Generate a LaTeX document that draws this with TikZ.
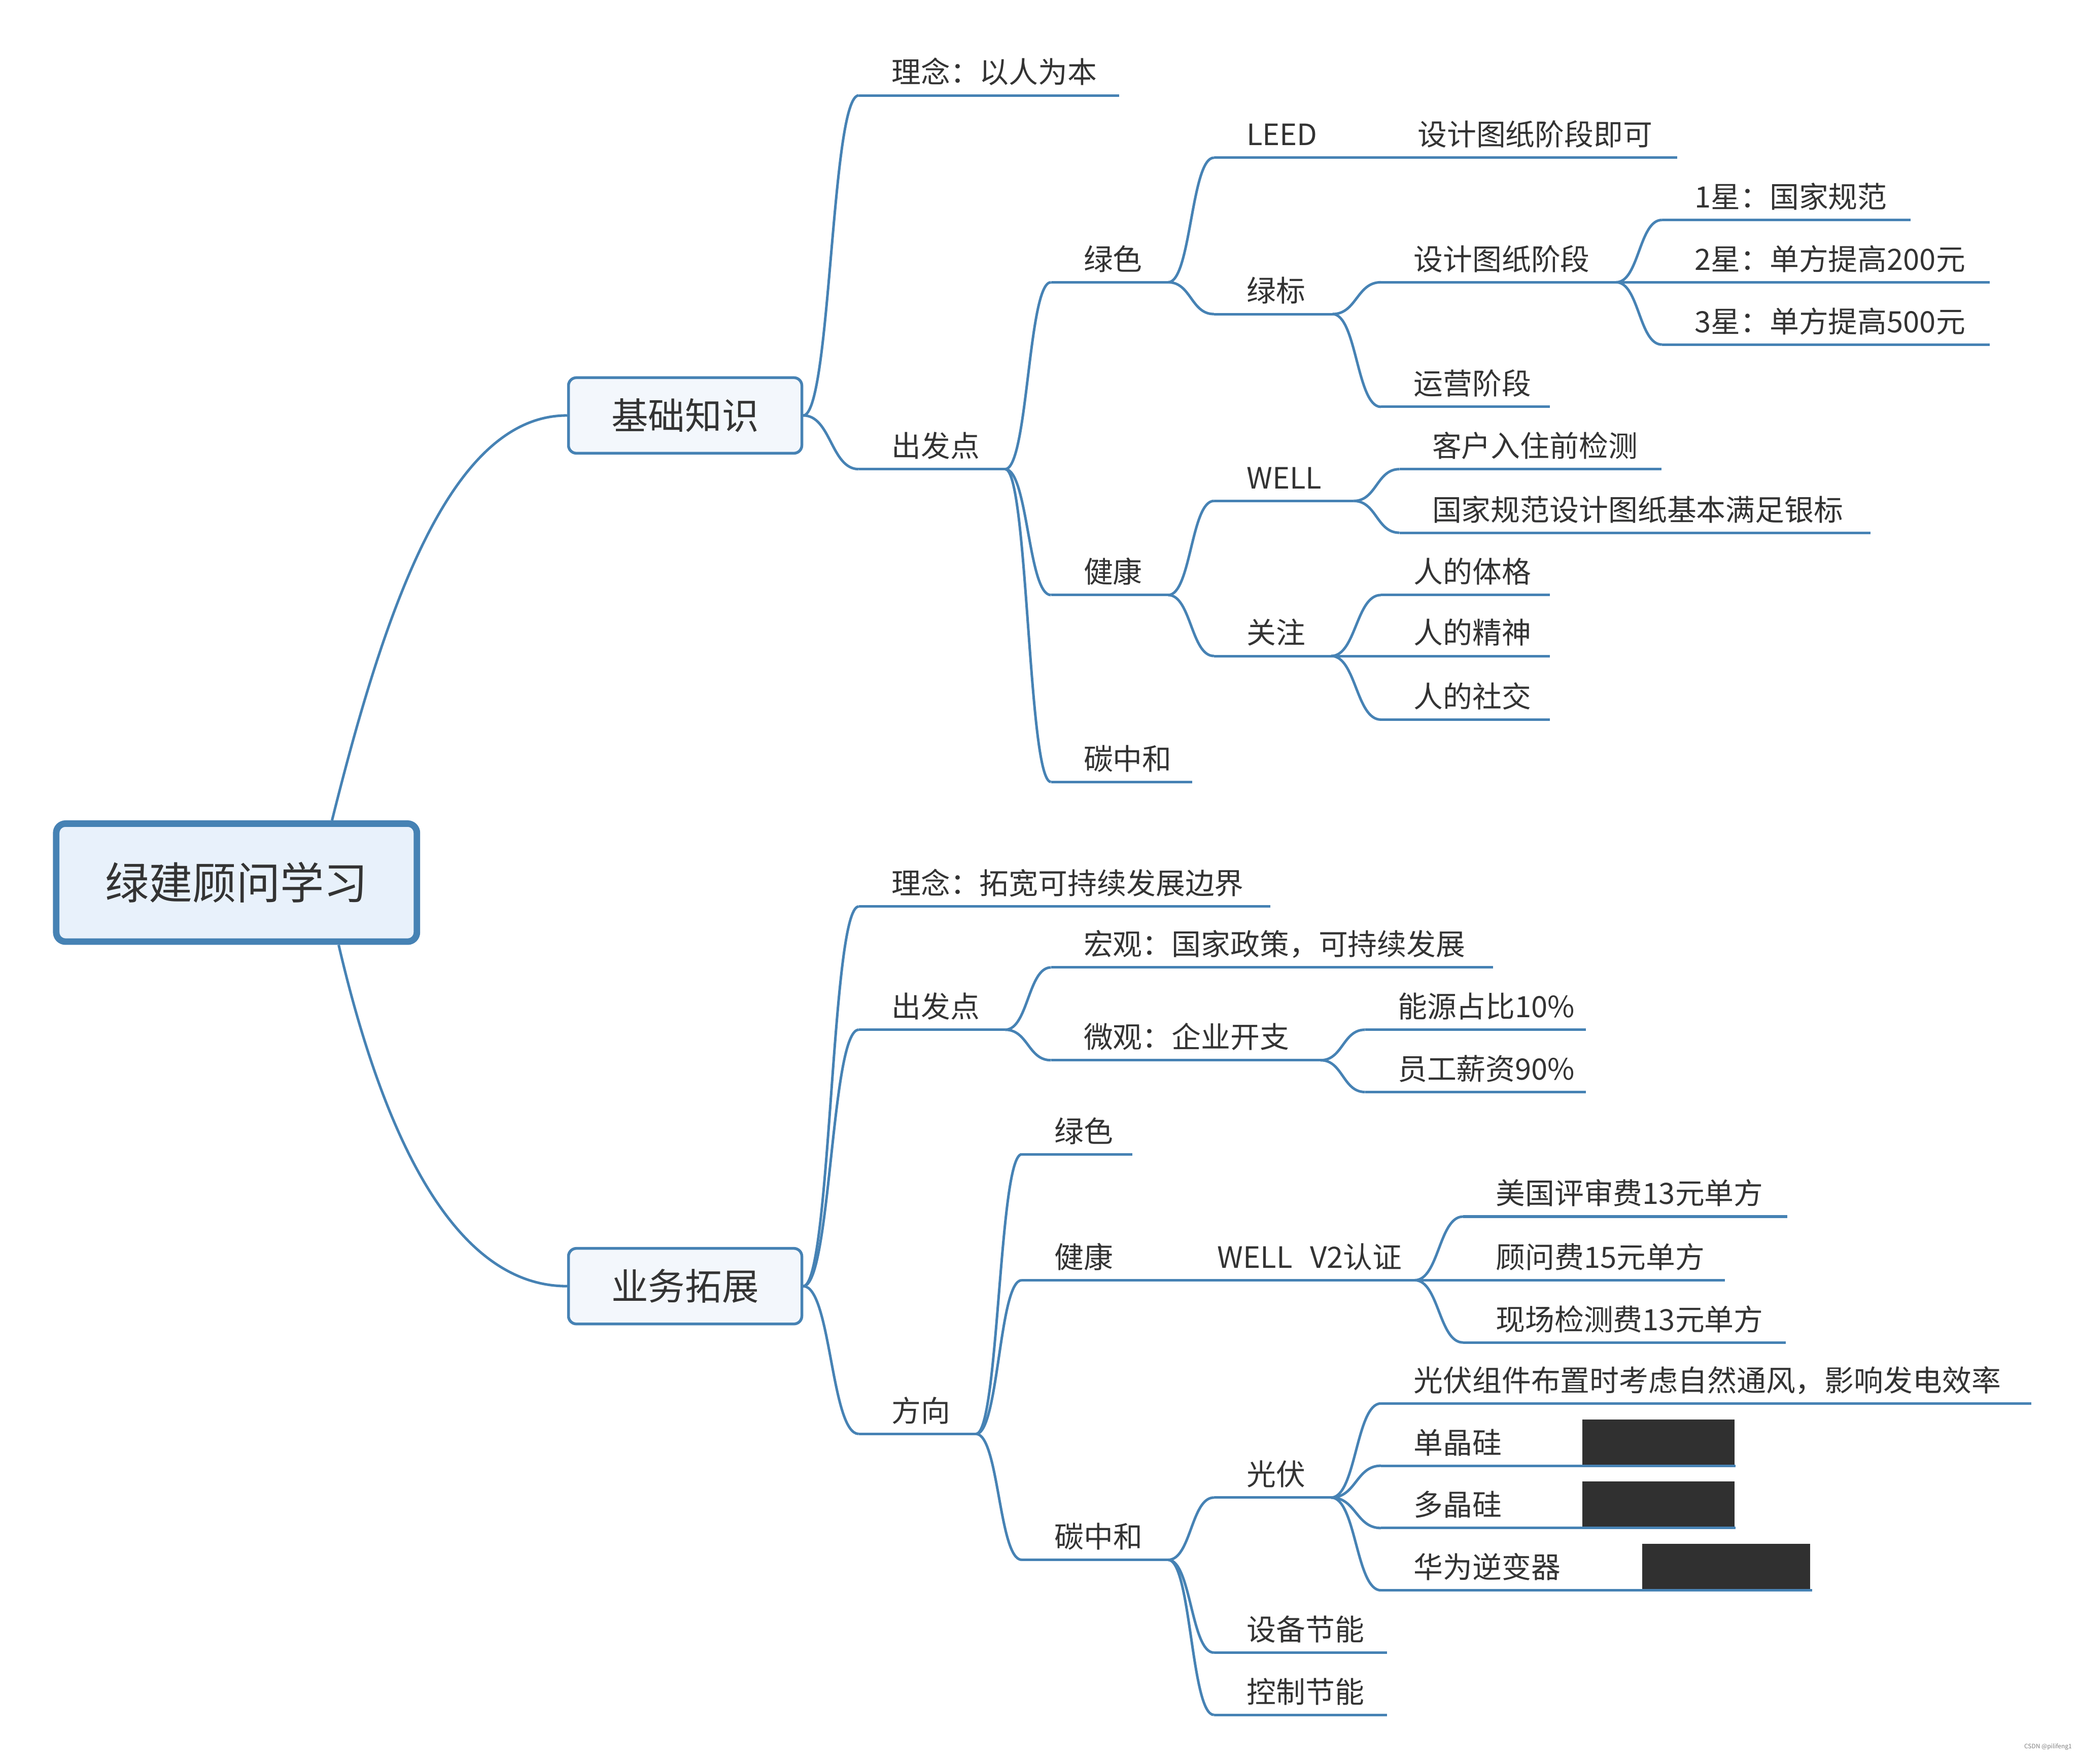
\documentclass[tikz,border=0pt]{standalone}
\usepackage{fontspec}
\setmainfont{Noto Sans CJK SC}
\usetikzlibrary{calc, positioning}
\definecolor{MAPblue}{HTML}{4682B4}
\definecolor{MAPink}{HTML}{333333}
\definecolor{MAProot}{HTML}{E8F1FB}
\definecolor{MAPmain}{HTML}{F3F7FC}
\definecolor{MAPblack}{HTML}{303030}
\newcommand{\tpfont}{\fontsize{6.3}{7.5}\selectfont}

\begin{document}
\begin{tikzpicture}[x=0.01cm, y=-0.01cm,
    branch/.style={MAPblue, line width=0.55pt},
    link/.style={to path={.. controls ($(\tikztostart)!.5!(\tikztostart -| \tikztotarget)$) and ($(\tikztotarget)!.5!(\tikztotarget -| \tikztostart)$) .. (\tikztotarget)}},
    topic/.style={anchor=south west, inner xsep=0pt, inner ysep=1pt, text depth=0.05cm,
        align=left, font=\tpfont, text=MAPink, execute at begin node={\noindent\hspace*{0.24cm}}},
    mainbox/.style={draw=MAPblue, line width=0.6pt, fill=MAPmain, rounded corners=0.06cm,
        minimum width=1.76cm, minimum height=0.57cm, font=\fontsize{7.9}{9}\selectfont, text=MAPink},
    rootbox/.style={draw=MAPblue, line width=1.4pt, fill=MAProot, rounded corners=0.07cm,
        minimum width=2.72cm, minimum height=0.89cm, font=\fontsize{9.4}{11}\selectfont, text=MAPink}]
\useasboundingbox (0,0) rectangle (1568,1331);

\node[rootbox] (root) at (178.5,666) {绿建顾问学习};
\node[mainbox] (kb) at (517,313.5) {基础知识};
\node[mainbox] (bx) at (517,970.5) {业务拓展};

% 基础知识
\node[topic, text width=1.95cm] (idea1) at (648,72) {理念：以人为本};
\node[topic, text width=1.09cm] (start1) at (648,354) {出发点};
\node[topic, text width=0.87cm] (green1) at (793,213) {绿色};
\node[topic, text width=1.04cm] (leed) at (916,119) {LEED};
\node[topic, text width=2.19cm] (leedd) at (1045,119) {设计图纸阶段即可};
\node[topic, text width=0.88cm] (gstd) at (916,237) {绿标};
\node[topic, text width=1.76cm] (stage) at (1042,213) {设计图纸阶段};
\node[topic, text width=1.86cm] (star1) at (1254,166) {1星：国家规范};
\node[topic, text width=2.46cm] (star2) at (1254,213) {2星：单方提高200元};
\node[topic, text width=2.46cm] (star3) at (1254,260) {3星：单方提高500元};
\node[topic, text width=1.26cm] (oper) at (1042,307) {运营阶段};
\node[topic, text width=0.87cm] (health1) at (793,449) {健康};
\node[topic, text width=1.04cm] (well) at (916,378) {WELL};
\node[topic, text width=1.96cm] (check) at (1056,354) {客户入住前检测};
\node[topic, text width=3.54cm] (silver) at (1056,402) {国家规范设计图纸基本满足银标};
\node[topic, text width=0.87cm] (focus) at (916,495) {关注};
\node[topic, text width=1.26cm] (body) at (1042,449) {人的体格};
\node[topic, text width=1.26cm] (mind) at (1042,495) {人的精神};
\node[topic, text width=1.26cm] (social) at (1042,543) {人的社交};
\node[topic, text width=1.05cm] (carbon1) at (793,590) {碳中和};

% 业务拓展
\node[topic, text width=3.09cm] (idea2) at (648,684) {理念：拓宽可持续发展边界};
\node[topic, text width=1.09cm] (start2) at (648,777) {出发点};
\node[topic, text width=0.87cm] (dir) at (648,1082) {方向};
\node[topic, text width=3.32cm] (macro) at (793,730) {宏观：国家政策，可持续发展};
\node[topic, text width=2.02cm] (micro) at (793,800) {微观：企业开支};
\node[topic, text width=1.65cm] (energy) at (1030,777) {能源占比10\%};
\node[topic, text width=1.65cm] (salary) at (1030,824) {员工薪资90\%};
\node[topic, text width=0.82cm] (green2) at (771,871) {绿色};
\node[topic, text width=0.82cm] (health2) at (771,966) {健康};
\node[topic, text width=1.72cm] (wellv2) at (894,966) {WELL\hspace{0.6em}V2认证};
\node[topic, text width=2.43cm] (usfee) at (1104,918) {美国评审费13元单方};
\node[topic, text width=1.96cm] (consult) at (1104,966) {顾问费15元单方};
\node[topic, text width=2.42cm] (site) at (1104,1013) {现场检测费13元单方};
\node[topic, text width=1.09cm] (carbon2) at (771,1177) {碳中和};
\node[topic, text width=0.87cm] (pv) at (916,1130) {光伏};
\node[topic, text width=1.29cm] (equip) at (916,1247) {设备节能};
\node[topic, text width=1.29cm] (ctrl) at (916,1294) {控制节能};
\node[topic, text width=4.89cm] (vent) at (1042,1059) {光伏组件布置时考虑自然通风，影响发电效率};
\node[topic, text width=2.66cm] (mono) at (1042,1106) {单晶硅};
\node[topic, text width=2.66cm] (poly) at (1042,1153) {多晶硅};
\node[topic, text width=3.24cm] (inv) at (1042,1200) {华为逆变器};

\fill[MAPblack] (1194,1071) rectangle (1309,1106);
\fill[MAPblack] (1194,1118) rectangle (1309,1153);
\fill[MAPblack] (1239,1165) rectangle (1366,1201);

\foreach \n in {idea1, start1, green1, leed, leedd, gstd, stage, star1, star2, star3, oper,
    health1, well, check, silver, focus, body, mind, social, carbon1,
    idea2, start2, dir, macro, micro, energy, salary, green2, health2, wellv2,
    usfee, consult, site, carbon2, pv, equip, ctrl, vent, mono, poly, inv}
  \draw[branch] (\n.south west) -- (\n.south east);

\draw[branch] ([xshift=0.72cm]root.north) .. controls +(40,-160) and +(-88,0) .. (kb.west);
\draw[branch] ([xshift=0.77cm]root.south) .. controls +(35,150) and +(-83,0) .. (bx.west);
\foreach \ch in {idea1, start1} \draw[branch] (kb.east) to[link] (\ch.south west);
\foreach \ch in {idea2, start2, dir} \draw[branch] (bx.east) to[link] (\ch.south west);

\foreach \pa/\ch in {start1/green1, start1/health1, start1/carbon1, green1/leed, green1/gstd,
    leed/leedd, gstd/stage, gstd/oper, stage/star1, stage/star2, stage/star3,
    health1/well, health1/focus, well/check, well/silver, focus/body, focus/mind, focus/social,
    start2/macro, start2/micro, micro/energy, micro/salary, dir/green2, dir/health2, dir/carbon2,
    health2/wellv2, wellv2/usfee, wellv2/consult, wellv2/site,
    carbon2/pv, carbon2/equip, carbon2/ctrl, pv/vent, pv/mono, pv/poly, pv/inv}
  \draw[branch] (\pa.south east) to[link] (\ch.south west);

\node[anchor=east, inner sep=0pt, font=\fontsize{1.3}{1.5}\selectfont, text=gray] (mark) at (1564,1318) {CSDN @pilifeng1};
\end{tikzpicture}
\end{document}
